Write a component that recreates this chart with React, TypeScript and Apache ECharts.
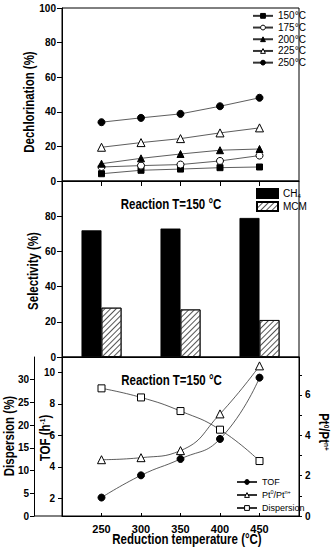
import React, { useEffect, useRef } from "react";
import * as echarts from "echarts";

// ---------- data ----------
const xTicks = [250, 300, 350, 400, 450];
const temps = [250, 300, 350, 400, 450];
const dechlorNames = ["150°C", "175°C", "200°C", "225°C", "250°C"];
const dechlor150 = [4.2, 6.2, 6.9, 7.7, 8.1];
const dechlor175 = [8.1, 8.9, 9.5, 11.6, 14.7];
const dechlor200 = [10.0, 13.1, 15.6, 17.8, 18.5];
const dechlor225 = [19.5, 22.2, 24.5, 27.8, 30.7];
const dechlor250 = [34.0, 36.5, 38.8, 43.2, 48.1];

const barTemps = [250, 350, 450];
const selCH4 = [72, 73, 79];
const selMCM = [28, 27, 21];

const tof = [2.05, 3.46, 4.5, 5.77, 9.66];
const ptRatio = [2.79, 2.89, 3.24, 5.06, 7.44];
const dispersion = [28.1, 26.1, 23.1, 19.0, 12.1];

const tofTicks = [2, 4, 6, 8, 10];
const ptLabels = [0, 2, 4, 6];
const ptTicks = [0, 1, 2, 3, 4, 5, 6, 7];
const dispTicks = [0, 5, 10, 15, 20, 25, 30];

const FONT = "Liberation Sans";
const pairs = (xs: number[], ys: number[]) => xs.map((x, i) => [x, ys[i]]);

export default function App() {
  const ref = useRef<HTMLDivElement>(null);
  useEffect(() => {
    if (!ref.current) return;
    const chart = echarts.init(ref.current, undefined, { renderer: "svg" });
    const axisLine = { show: true, lineStyle: { color: "#000", width: 1 } };
    const yLabel = { fontFamily: FONT, fontWeight: "bold" as const, fontSize: 10, color: "#000" };

    const dechlorSets = [dechlor150, dechlor175, dechlor200, dechlor225, dechlor250];
    const dechlorSymbols = ["rect", "circle", "triangle", "triangle", "circle"];
    const dechlorFilled = [true, false, true, false, true];
    const dechlorSizes = [6, 7, 7, 8, 7];

    const symStyle = (filled: boolean) => ({ color: filled ? "#000" : "#fff", borderColor: "#000", borderWidth: 1 });

    const lineSeries = dechlorSets.map((d, i) => ({
      type: "line",
      name: dechlorNames[i],
      xAxisIndex: 0,
      yAxisIndex: 0,
      data: pairs(temps, d),
      symbol: dechlorSymbols[i],
      symbolSize: dechlorSizes[i],
      lineStyle: { color: "#333", width: 0.8 },
      itemStyle: symStyle(dechlorFilled[i]),
      z: 3,
    }));

    const titleText = (text: string, x: number, y: number, rotation: number, size: number, sx: number, rich?: any) => ({
      type: "text",
      x,
      y,
      rotation,
      scaleX: sx,
      style: {
        text,
        fontFamily: FONT,
        fontWeight: "bold",
        fontSize: size,
        fill: "#000",
        align: "center",
        verticalAlign: "middle",
        rich,
      },
    });

    const supRich = {
      sup: { fontFamily: FONT, fontWeight: "bold", fontSize: 8, fill: "#000", verticalAlign: "top", padding: [0, 0, 6, 0] },
    };

    const option: any = {
      animation: false,
      backgroundColor: "#fff",
      textStyle: { fontFamily: FONT },
      grid: [
        { left: 62, top: 8, width: 237, height: 173, show: true, borderColor: "#000", borderWidth: 1 },
        { left: 62, top: 181, width: 237, height: 176, show: true, borderColor: "#000", borderWidth: 1 },
        { left: 62, top: 357, width: 237, height: 159, show: true, borderColor: "#000", borderWidth: 1 },
      ],
      xAxis: [
        {
          type: "value", gridIndex: 0, min: 200, max: 500,
          axisLine, splitLine: { show: false },
          axisTick: { show: true, customValues: xTicks, length: 5, lineStyle: { color: "#000" } },
          axisLabel: { show: false },
        },
        {
          type: "value", gridIndex: 1, min: 200, max: 500,
          axisLine, splitLine: { show: false },
          axisTick: { show: false },
          axisLabel: { show: false },
        },
        {
          type: "value", gridIndex: 2, min: 200, max: 500,
          axisLine, splitLine: { show: false },
          axisTick: { show: true, inside: true, customValues: xTicks, length: 3, lineStyle: { color: "#000" } },
          axisLabel: { show: true, customValues: xTicks, fontFamily: FONT, fontWeight: "bold", fontSize: 11, color: "#000", margin: 7 },
        },
      ],
      yAxis: [
        {
          type: "value", gridIndex: 0, min: 0, max: 100, interval: 20,
          axisLine, splitLine: { show: false },
          axisTick: { show: true, length: 5, lineStyle: { color: "#000" } },
          axisLabel: { ...yLabel, margin: 6 },
        },
        {
          type: "value", gridIndex: 1, min: 0, max: 100, interval: 20,
          axisLine, splitLine: { show: false },
          axisTick: { show: true, length: 5, lineStyle: { color: "#000" } },
          axisLabel: { ...yLabel, margin: 6, showMaxLabel: false },
        },
        {
          type: "value", gridIndex: 2, position: "left", min: 0.88, max: 10.97,
          axisLine, splitLine: { show: false },
          axisTick: { show: true, customValues: tofTicks, length: 4, lineStyle: { color: "#000" } },
          axisLabel: { ...yLabel, customValues: tofTicks, margin: 7 },
        },
        {
          type: "value", gridIndex: 2, position: "left", offset: 28, min: 0, max: 35,
          axisLine, splitLine: { show: false },
          axisTick: { show: true, customValues: dispTicks, length: 4, lineStyle: { color: "#000" } },
          axisLabel: { ...yLabel, customValues: dispTicks, margin: 5 },
        },
        {
          type: "value", gridIndex: 2, position: "right", min: 0, max: 7.88,
          axisLine, splitLine: { show: false },
          axisTick: { show: true, customValues: ptTicks, length: 3, lineStyle: { color: "#000" } },
          axisLabel: { ...yLabel, customValues: ptLabels, margin: 6 },
        },
      ],
      legend: [
        {
          data: dechlorNames.map((n, i) => ({ name: n, itemStyle: symStyle(dechlorFilled[i]) })),
          orient: "vertical",
          left: 247,
          top: 5,
          itemWidth: 20,
          itemHeight: 6,
          itemGap: 0,
          textStyle: { fontFamily: FONT, fontSize: 10, color: "#000", lineHeight: 11.7 },
        },
        {
          data: ["CH4", "MCM"],
          orient: "vertical",
          left: 251,
          top: 183,
          icon: "rect",
          itemWidth: 21,
          itemHeight: 9,
          itemGap: 2,
          formatter: (n: string) => (n === "CH4" ? "CH{sub|4}" : n),
          textStyle: {
            fontFamily: FONT, fontSize: 10, color: "#000", lineHeight: 10,
            rich: { sub: { fontFamily: FONT, fontSize: 6, color: "#000", lineHeight: 10, verticalAlign: "bottom" } },
          },
        },
        {
          data: [
            { name: "TOF", itemStyle: symStyle(true) },
            { name: "Pt0/Ptn+", itemStyle: symStyle(false) },
            { name: "Dispersion", itemStyle: symStyle(false) },
          ],
          orient: "vertical",
          left: 231,
          top: 471,
          itemWidth: 20,
          itemHeight: 6,
          itemGap: 1,
          formatter: (n: string) => (n === "Pt0/Ptn+" ? "Pt{sup|0}/Pt{sup|n+}" : n),
          textStyle: {
            fontFamily: FONT, fontSize: 9, color: "#000", lineHeight: 12,
            rich: { sup: { fontFamily: FONT, fontSize: 5.5, color: "#000", lineHeight: 12, verticalAlign: "top" } },
          },
        },
      ],
      series: [
        ...lineSeries,
        {
          type: "bar",
          name: "CH4",
          xAxisIndex: 1,
          yAxisIndex: 1,
          data: pairs(barTemps, selCH4),
          barWidth: 20,
          barGap: "0%",
          itemStyle: { color: "#000", borderColor: "#000", borderWidth: 0.8 },
        },
        {
          type: "bar",
          name: "MCM",
          xAxisIndex: 1,
          yAxisIndex: 1,
          data: pairs(barTemps, selMCM),
          barWidth: 20,
          barGap: "0%",
          itemStyle: {
            color: "#fff",
            borderColor: "#000",
            borderWidth: 0.8,
            decal: {
              symbol: "rect",
              symbolSize: 1,
              color: "#555",
              backgroundColor: "#fff",
              dashArrayX: [1, 0],
              dashArrayY: [1, 3],
              rotation: -Math.PI / 4,
            },
          },
        },
        {
          type: "line",
          name: "TOF",
          xAxisIndex: 2,
          yAxisIndex: 2,
          data: pairs(temps, tof),
          smooth: true,
          symbol: "circle",
          symbolSize: 7,
          lineStyle: { color: "#333", width: 0.8 },
          itemStyle: symStyle(true),
          z: 3,
        },
        {
          type: "line",
          name: "Pt0/Ptn+",
          xAxisIndex: 2,
          yAxisIndex: 4,
          data: pairs(temps, ptRatio),
          smooth: true,
          symbol: "triangle",
          symbolSize: 8,
          lineStyle: { color: "#333", width: 0.8 },
          itemStyle: symStyle(false),
          z: 3,
        },
        {
          type: "line",
          name: "Dispersion",
          xAxisIndex: 2,
          yAxisIndex: 3,
          data: pairs(temps, dispersion),
          smooth: true,
          symbol: "rect",
          symbolSize: 7,
          lineStyle: { color: "#333", width: 0.8 },
          itemStyle: symStyle(false),
          z: 3,
        },
      ],
      graphic: [
        titleText("Dechlorination (%)", 29, 102, Math.PI / 2, 14, 0.82),
        titleText("Selectivity (%)", 33, 271, Math.PI / 2, 14, 0.82),
        titleText("Dispersion (%)", 9, 436, Math.PI / 2, 14, 0.82),
        titleText("TOF (h{sup|-1})", 45, 438, Math.PI / 2, 14, 0.82, supRich),
        titleText("Pt{sup|0}/Pt{sup|n+}", 324, 432, -Math.PI / 2, 14, 0.82, supRich),
        titleText("Reduction temperature (°C)", 187, 539, 0, 14, 0.82),
        titleText("Reaction T=150 °C", 171, 204, 0, 14, 0.82),
        titleText("Reaction T=150 °C", 171.5, 380, 0, 14, 0.82),
        {
          type: "line",
          shape: { x1: 34, y1: 516, x2: 62, y2: 516 },
          style: { stroke: "#000", lineWidth: 1 },
        },
      ],
    };
    chart.setOption(option);
    return () => chart.dispose();
  }, []);
  return (
    <div
      ref={ref}
      style={{ position: "fixed", left: 0, top: 0, width: 333, height: 550, background: "#fff" }}
    />
  );
}
